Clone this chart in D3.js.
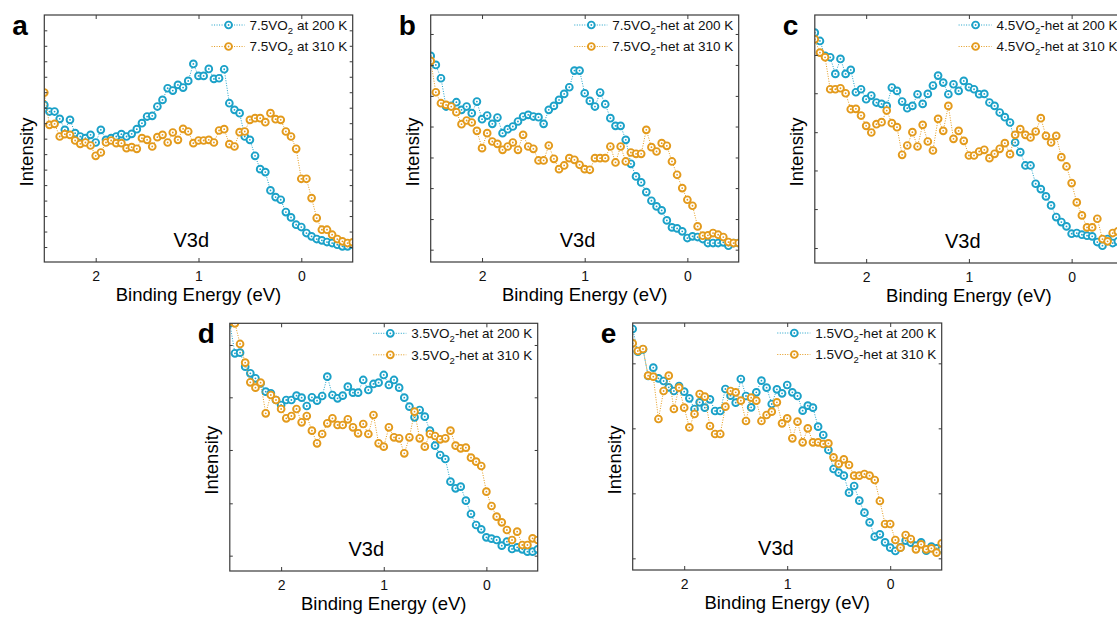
<!DOCTYPE html>
<html>
<head>
<meta charset="utf-8">
<script src="https://cdn.jsdelivr.net/npm/d3@7"></script>
<style>
  body { margin: 0; background: #fff; }
  svg { display: block; font-family: Arial, "Liberation Sans", sans-serif; }
</style>
</head>
<body>
<div id="chart"></div>
<script>
// binding energy grid (eV), shared by every spectrum
const energy = [2.5, 2.45, 2.4, 2.35, 2.3, 2.25, 2.2, 2.15, 2.1, 2.05,
    2.0, 1.95, 1.9, 1.85, 1.8, 1.75, 1.7, 1.65, 1.6, 1.55,
    1.5, 1.45, 1.4, 1.35, 1.3, 1.25, 1.2, 1.15, 1.1, 1.05,
    1.0, 0.95, 0.9, 0.85, 0.8, 0.75, 0.7, 0.65, 0.6, 0.55,
    0.5, 0.45, 0.4, 0.35, 0.3, 0.25, 0.2, 0.15, 0.1, 0.05,
    0.0, -0.05, -0.1, -0.15, -0.2, -0.25, -0.3, -0.35, -0.4, -0.45, -0.5];

const xTicks = [2, 1, 0];
const xTickLabels = ['2', '1', '0'];
const temperatures = ['200 K', '310 K'];
const sampleNames = ['7.5VO', '7.5VO', '4.5VO', '3.5VO', '1.5VO'];
const sampleSuffix = ['', '-het', '-het', '-het', '-het'];
const panelLetters = ['a', 'b', 'c', 'd', 'e'];

// intensities (arb. units)
const a200 = [685,665,665,643,610,640,600,590,585,595,572,610,580,585,590,597,590,598,612,630,650,652,680,700,735,728,745,737,757,808,772,772,793,763,765,792,690,670,660,590,580,532,492,483,428,408,400,363,347,325,318,300,290,282,278,273,270,265,260,260,265];
const a310 = [722,625,628,590,597,595,578,568,572,563,532,542,572,578,570,570,555,558,553,585,580,560,588,595,572,602,580,613,605,570,578,578,580,572,608,612,567,560,603,605,640,645,645,633,660,642,640,605,590,553,463,463,405,345,310,310,295,282,275,270,272];

const b200 = [832,805,765,680,682,693,670,680,660,695,642,653,628,647,600,612,620,635,650,655,650,648,628,670,682,700,718,738,788,788,720,697,680,722,687,645,622,622,580,508,470,452,423,397,380,368,338,317,314,305,285,290,288,282,270,270,270,272,262,270,270];
const b310 = [817,723,690,685,680,663,627,638,632,607,555,600,575,568,550,560,572,550,595,560,553,518,518,563,523,492,503,525,520,505,492,490,525,525,525,560,512,560,515,542,538,538,610,558,545,570,562,515,475,435,400,382,320,292,293,300,295,288,273,270,270];

const c200 = [902,877,832,828,778,823,778,790,723,732,702,713,692,688,682,737,727,695,675,682,717,688,718,743,773,752,717,747,727,757,738,732,717,718,692,682,662,648,632,572,543,503,503,448,432,410,383,348,333,320,298,300,295,292,290,273,262,282,270,275,270];
const c310 = [882,842,828,732,732,735,720,672,673,653,622,602,627,633,668,630,618,535,563,603,560,625,575,548,643,607,682,583,607,577,533,533,545,550,525,538,553,570,537,595,612,595,587,605,645,592,572,592,528,500,450,392,353,317,317,343,282,275,300,305,300];

const d200 = [960,870,872,830,810,795,780,755,750,730,715,730,730,743,737,712,738,728,742,800,745,735,743,770,752,752,790,760,778,782,805,775,790,767,737,710,678,700,680,638,593,565,553,485,465,470,428,388,355,342,318,314,310,293,305,283,288,282,275,275,282];
const d310 = [965,960,898,842,783,767,782,690,745,730,703,675,682,703,663,682,638,600,628,660,675,655,655,672,648,630,658,628,685,600,590,648,618,615,570,618,695,615,590,628,622,612,615,638,593,585,587,557,545,532,455,412,380,363,340,310,335,295,295,315,310];

const e200 = [943,875,882,802,827,795,787,768,757,772,755,735,703,723,707,732,697,697,763,743,722,793,742,708,753,788,767,718,762,750,775,753,742,698,713,707,650,625,580,523,512,503,452,472,428,392,363,320,327,303,287,277,288,308,302,293,303,278,290,285,282];
const e310 = [900,877,883,803,800,673,757,803,703,767,707,648,688,748,740,652,628,628,710,757,753,728,667,737,728,667,685,695,723,660,675,615,665,603,645,603,603,598,600,558,538,552,535,503,503,508,503,490,427,358,358,310,287,325,313,282,297,282,285,272,300];

const spectra = [[a200, a310], [b200, b310], [c200, c310], [d200, d310], [e200, e310]];

// minor intensity ticks (no labels) and visible intensity window per panel
const yTicks = [
    [258, 304.5, 351, 397.5, 444, 490.5, 537, 583.5, 630, 676.5, 723, 769.5, 816, 862.5, 909],
    [250, 342, 435, 527, 620, 712, 805, 898],
    [255, 372, 488, 603, 720, 835],
    [263, 420, 580, 738, 895],
    [255, 450, 645, 840]
];
const yDomains = [[213, 955], [213, 955], [210, 955], [217, 960], [220, 961]];
const v3dAt = [1.07, 1.07, 1.06, 1.17, 1.11];

const colors = ['#1ba1c8', '#e39a1c'];
const lineColor = '#3a3a3a';

// frame boxes on the page
const frames = [
    { x0: 44.3, x1: 352.7, y0: 15, y1: 262 },
    { x0: 430.7, x1: 738.7, y0: 15, y1: 262 },
    { x0: 814.8, x1: 1123, y0: 15, y1: 263 },
    { x0: 229.8, x1: 537.7, y0: 323.3, y1: 571 },
    { x0: 632.7, x1: 941.7, y0: 323, y1: 570 }
];

const svg = d3.select('#chart')
    .append('svg')
    .attr('width', 1117)
    .attr('height', 618);

const defs = svg.append('defs');

function marker(sel, cx, cy, color) {
    sel.append('circle')
        .attr('cx', cx)
        .attr('cy', cy)
        .attr('r', 3.4)
        .style('fill', '#fff')
        .style('stroke', color)
        .style('stroke-width', 1.9);
    sel.append('circle')
        .attr('cx', cx)
        .attr('cy', cy)
        .attr('r', 0.9)
        .style('fill', color);
}

function drawPanel(idx) {
    const f = frames[idx];
    const g = svg.append('g');

    const x = d3.scaleLinear().domain([2.5, -0.5]).range([f.x0, f.x1]);
    const y = d3.scaleLinear().domain(yDomains[idx]).range([f.y1, f.y0]);

    const clipId = 'clip-' + panelLetters[idx];
    defs.append('clipPath')
        .attr('id', clipId)
      .append('rect')
        .attr('x', f.x0)
        .attr('y', f.y0)
        .attr('width', f.x1 - f.x0)
        .attr('height', f.y1 - f.y0);

    const plot = g.append('g').attr('clip-path', `url(#${clipId})`);
    const line = d3.line().x(d => x(d[0])).y(d => y(d[1]));

    spectra[idx].forEach((vals, k) => {
        const pts = energy.map((e, i) => [e, vals[i]]);
        plot.append('path')
            .datum(pts)
            .attr('d', line)
            .style('fill', 'none')
            .style('stroke', colors[k])
            .style('stroke-width', 1)
            .style('stroke-dasharray', '1,1.5');
        const mk = plot.append('g');
        pts.forEach(p => marker(mk, x(p[0]), y(p[1]), colors[k]));
    });

    // axes, ticks pointing inwards on all four sides
    const axes = [
        [d3.axisBottom(x).tickValues(xTicks).tickFormat((d, i) => xTickLabels[i]).tickSizeInner(-4).tickPadding(9), `translate(0,${f.y1})`],
        [d3.axisTop(x).tickValues(xTicks).tickFormat('').tickSizeInner(-4), `translate(0,${f.y0})`],
        [d3.axisLeft(y).tickValues(yTicks[idx]).tickFormat('').tickSizeInner(-3), `translate(${f.x0},0)`],
        [d3.axisRight(y).tickValues(yTicks[idx]).tickFormat('').tickSizeInner(-3), `translate(${f.x1},0)`]
    ];
    axes.forEach(([ax, tr]) => {
        const a = g.append('g')
            .attr('transform', tr)
            .call(ax.tickSizeOuter(0));
        a.select('.domain').remove();
        a.selectAll('line').style('stroke', lineColor).style('stroke-width', 1);
        a.selectAll('text')
            .style('font-size', '14px')
            .style('font-family', 'Arial, "Liberation Sans", sans-serif')
            .style('fill', '#111');
    });

    g.append('rect')
        .attr('x', f.x0)
        .attr('y', f.y0)
        .attr('width', f.x1 - f.x0)
        .attr('height', f.y1 - f.y0)
        .style('fill', 'none')
        .style('stroke', lineColor)
        .style('stroke-width', 1.2);

    g.append('text')
        .attr('x', (f.x0 + f.x1) / 2)
        .attr('y', f.y1 + 39)
        .attr('text-anchor', 'middle')
        .style('font-size', '18.5px')
        .text('Binding Energy (eV)');

    g.append('text')
        .attr('transform', `translate(${f.x0 - 11.5},${f.y0 + 137}) rotate(-90)`)
        .attr('text-anchor', 'middle')
        .style('font-size', '18.5px')
        .text('Intensity');

    g.append('text')
        .attr('x', f.x0 - 32)
        .attr('y', f.y0 + 19.5)
        .style('font-size', '28px')
        .style('font-weight', 'bold')
        .text(panelLetters[idx]);

    g.append('text')
        .attr('x', x(v3dAt[idx]))
        .attr('y', f.y1 - 15)
        .attr('text-anchor', 'middle')
        .style('font-size', '20px')
        .text('V3d');

    // legend
    temperatures.forEach((t, k) => {
        const ry = f.y0 + 10 + k * 21.5;
        const txt = g.append('text')
            .attr('x', f.x1 - 5.5)
            .attr('y', ry + 4.8)
            .attr('text-anchor', 'end')
            .style('font-size', '13.5px')
            .style('fill', '#111');
        txt.append('tspan').text(sampleNames[idx]);
        txt.append('tspan').attr('dy', 4).style('font-size', '9.5px').text('2');
        txt.append('tspan').attr('dy', -4).text(`${sampleSuffix[idx]} at ${t}`);

        const tx = txt.node().getBBox().x;
        const mx = tx - 21;
        g.append('line')
            .attr('x1', mx - 17)
            .attr('x2', mx + 16)
            .attr('y1', ry)
            .attr('y2', ry)
            .style('stroke', colors[k])
            .style('stroke-width', 1)
            .style('stroke-dasharray', '1,1.5');
        marker(g, mx, ry, colors[k]);
    });
}

panelLetters.forEach((_, i) => drawPanel(i));
</script>
</body>
</html>
